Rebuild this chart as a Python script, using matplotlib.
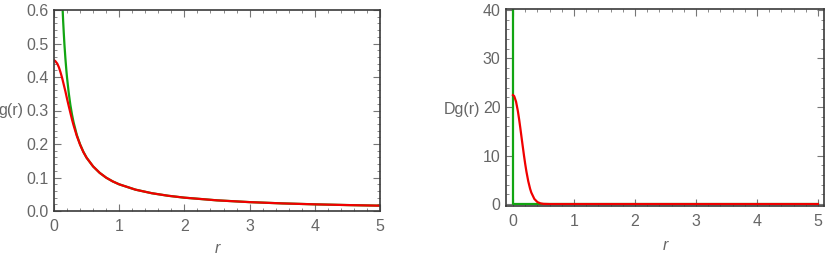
import matplotlib
matplotlib.use("Agg")
import matplotlib.pyplot as plt
from matplotlib.ticker import MultipleLocator

# g(r): point charge (green) and smeared charge (red)
r_green = [0.13, 0.14, 0.15, 0.16, 0.175, 0.19, 0.2, 0.225, 0.25, 0.275, 0.3, 0.35, 0.4,
           0.45, 0.5, 0.6, 0.7, 0.8, 0.9, 1.0, 1.25, 1.5, 1.75, 2.0, 2.5, 3.0, 3.5,
           4.0, 4.5, 5.0]
g_green = [0.612, 0.568, 0.531, 0.497, 0.455, 0.419, 0.398, 0.354, 0.318, 0.289, 0.265,
           0.227, 0.199, 0.177, 0.159, 0.133, 0.114, 0.0995, 0.0884, 0.0796, 0.0637,
           0.0531, 0.0455, 0.0398, 0.0318, 0.0265, 0.0227, 0.0199, 0.0177, 0.0159]

r_red = [0.0, 0.02, 0.05, 0.075, 0.1, 0.125, 0.15, 0.175, 0.2, 0.225, 0.25, 0.275, 0.3,
         0.35, 0.4, 0.45, 0.5, 0.6, 0.7, 0.8, 0.9, 1.0, 1.25, 1.5, 1.75, 2.0, 2.5, 3.0,
         3.5, 4.0, 4.5, 5.0]
g_red = [0.450, 0.4475, 0.440, 0.429, 0.414, 0.397, 0.377, 0.357, 0.335, 0.314, 0.294,
         0.274, 0.256, 0.224, 0.198, 0.176, 0.159, 0.133, 0.114, 0.0995, 0.0884, 0.0796,
         0.0637, 0.0531, 0.0455, 0.0398, 0.0318, 0.0265, 0.0227, 0.0199, 0.0177, 0.0159]

# Dg(r): delta spike (green) and gaussian (red)
r_dgreen = [0.0, 0.0, 5.0]
dg_green = [45.0, 0.0, 0.0]

r_dred = [0.0, 0.02, 0.05, 0.08, 0.1, 0.12, 0.15, 0.18, 0.2, 0.22, 0.25, 0.28, 0.3,
          0.35, 0.4, 0.45, 0.5, 0.6, 5.0]
dg_red = [22.45, 22.23, 21.09, 19.13, 17.48, 15.66, 12.79, 9.99, 8.26, 6.69, 4.70,
          3.16, 2.37, 1.05, 0.41, 0.14, 0.04, 0.0, 0.0]

GREEN = '#12a512'
RED = '#f00000'
FRAME = '#3a3a3a'
TXT = '#666666'
FS = 11.5

plt.rcParams['font.family'] = ['Liberation Sans', 'DejaVu Sans']
fig = plt.figure(figsize=(8.3, 2.58), dpi=100)

ax1 = fig.add_axes([54/830, 1-211/258, 326/830, 201/258])
ax2 = fig.add_axes([506/830, 1-206/258, 318/830, 197/258])


def style(ax, xmaj, xmin, ymaj, ymin):
    ax.xaxis.set_major_locator(MultipleLocator(xmaj))
    ax.xaxis.set_minor_locator(MultipleLocator(xmin))
    ax.yaxis.set_major_locator(MultipleLocator(ymaj))
    ax.yaxis.set_minor_locator(MultipleLocator(ymin))
    ax.tick_params(which='both', direction='in', top=True, right=True,
                   color='#777777', labelcolor=TXT, labelsize=FS)
    ax.tick_params(which='major', length=5, width=0.8)
    ax.tick_params(which='minor', length=2.5, width=0.6)
    ax.tick_params(axis='y', which='major', pad=4)
    ax.tick_params(axis='x', which='major', pad=6)
    for s in ax.spines.values():
        s.set_color(FRAME)
        s.set_linewidth(1.2)


ax1.plot(r_green, g_green, color=GREEN, lw=1.6)
ax1.plot(r_red, g_red, color=RED, lw=1.6)
ax1.set_xlim(0, 5)
ax1.set_ylim(0, 0.6)
style(ax1, 1, 0.2, 0.1, 0.02)
ax1.set_yticks([0, 0.1, 0.2, 0.3, 0.4, 0.5, 0.6])
ax1.set_yticklabels(['0.0', '0.1', '0.2', '0.3', '0.4', '0.5', '0.6'])
ax1.set_ylabel('g(r)', rotation=0, color=TXT, fontsize=FS, ha='center', va='center')
ax1.yaxis.set_label_coords(-0.132, 0.5)
ax1.set_xlabel('r', color=TXT, fontsize=FS, style='italic', va='top')
ax1.xaxis.set_label_coords(0.5, -0.15)

ax2.plot(r_dgreen, dg_green, color=GREEN, lw=1.6)
ax2.plot(r_dred, dg_red, color=RED, lw=1.6)
ax2.set_xlim(-0.115, 5.1)
ax2.set_ylim(-0.4, 40.2)
style(ax2, 1, 0.2, 10, 2)
ax2.set_ylabel('Dg(r)', rotation=0, color=TXT, fontsize=FS, ha='center', va='center')
ax2.yaxis.set_label_coords(-0.138, 0.49)
ax2.set_xlabel('r', color=TXT, fontsize=FS, style='italic', va='top')
ax2.xaxis.set_label_coords(0.5, -0.16)

fig.savefig('out.png', dpi=100)
